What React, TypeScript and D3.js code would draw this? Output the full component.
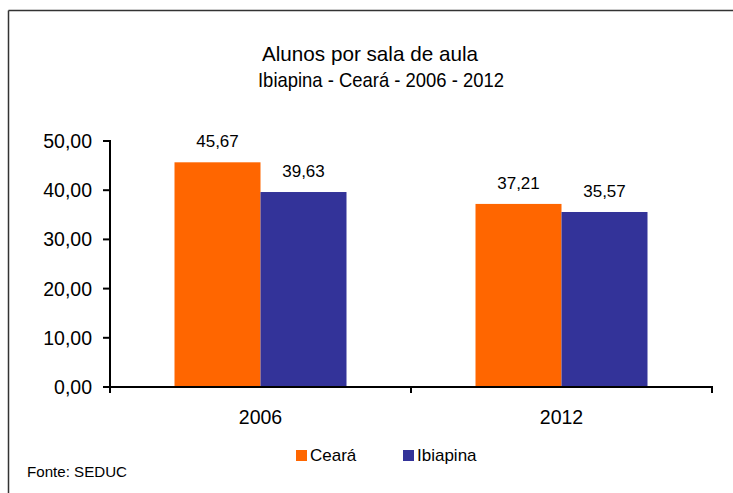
import React from "react";
import * as d3 from "d3";

const years = ["2006", "2012"];
const seriesNames = ["Ceará", "Ibiapina"];
const cearaValues = [45.67, 37.21];
const ibiapinaValues = [39.63, 35.57];
const yTicks = [0, 10, 20, 30, 40, 50];
const titleLines = ["Alunos por sala de aula", "Ibiapina - Ceará - 2006 - 2012"];
const sourceText = "Fonte: SEDUC";

const colors = ["#FF6600", "#333399"];
const font = "'Liberation Sans', Arial, sans-serif";

export default function App() {
  const W = 733, H = 493;
  const left = 110, right = 712, top = 141, bottom = 387;
  const x = d3.scaleBand<string>().domain(years).range([left, right]).paddingInner(0).paddingOuter(0);
  const inner = d3.scaleBand<string>().domain(seriesNames).range([0, x.bandwidth()]).paddingInner(0).paddingOuter(0.75);
  const y = d3.scaleLinear().domain([0, 50]).range([bottom, top]);
  const fmt = (v: number) => v.toFixed(2).replace(".", ",");
  const seriesValues = [cearaValues, ibiapinaValues];
  const titleLayout = [
    { cx: 370, y: 61, w: 216 },
    { cx: 381, y: 86.5, w: 246 },
  ];

  return (
    <svg width={W} height={H} style={{ position: "absolute", left: 0, top: 0, background: "#fff" }} fontFamily={font}>
      <rect x={0} y={0} width={W} height={H} fill="#fff" />
      {/* frame */}
      <line x1={8.5} y1={10.5} x2={W} y2={10.5} stroke="#333" strokeWidth={1.5} />
      <line x1={8.5} y1={10.5} x2={8.5} y2={H} stroke="#333" strokeWidth={1.5} />

      {/* title */}
      {titleLines.map((t, i) => (
        <text key={i} x={titleLayout[i].cx - titleLayout[i].w / 2} y={titleLayout[i].y} fontSize={21} fill="#000"
          textLength={titleLayout[i].w} lengthAdjust="spacingAndGlyphs">{t}</text>
      ))}

      {/* bars */}
      {years.map((yr, i) =>
        seriesNames.map((s, j) => {
          const v = seriesValues[j][i];
          const bx = (x(yr) as number) + (inner(s) as number);
          const bw = inner.bandwidth();
          return (
            <g key={yr + s}>
              <rect x={bx} y={y(v)} width={bw} height={bottom - y(v)} fill={colors[j]} />
              <text x={bx + bw / 2} y={y(v) - 15} textAnchor="middle" fontSize={17} fill="#000">{fmt(v)}</text>
            </g>
          );
        })
      )}

      {/* y axis */}
      <line x1={left} y1={top - 1} x2={left} y2={bottom + 1} stroke="#000" strokeWidth={2} />
      {yTicks.map((t) => (
        <g key={t}>
          <line x1={left - 7} y1={y(t)} x2={left} y2={y(t)} stroke="#000" strokeWidth={2} />
          <text x={left - 18} y={y(t) + 7} textAnchor="end" fontSize={19.5} fill="#000">{fmt(t)}</text>
        </g>
      ))}

      {/* x axis */}
      <line x1={left - 1} y1={bottom} x2={right + 1} y2={bottom} stroke="#000" strokeWidth={2} />
      {[...years.map((yr) => x(yr) as number), right].map((px, i) => (
        <line key={i} x1={px} y1={bottom} x2={px} y2={bottom + 6} stroke="#000" strokeWidth={2} />
      ))}
      {years.map((yr) => (
        <text key={yr} x={(x(yr) as number) + x.bandwidth() / 2} y={424} textAnchor="middle" fontSize={19.5} fill="#000">{yr}</text>
      ))}

      {/* legend */}
      {seriesNames.map((s, j) => {
        const lx = j === 0 ? 296 : 403;
        return (
          <g key={s}>
            <rect x={lx} y={450} width={11} height={11} fill={colors[j]} />
            <text x={lx + 14} y={461} fontSize={17} fill="#000">{s}</text>
          </g>
        );
      })}

      {/* source */}
      <text x={27} y={477} fontSize={15} fill="#000" textLength={100} lengthAdjust="spacingAndGlyphs">{sourceText}</text>
    </svg>
  );
}
